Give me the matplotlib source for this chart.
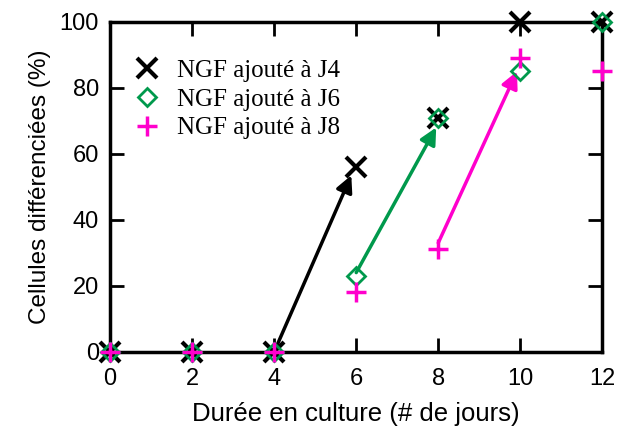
import matplotlib.pyplot as plt

jours = [0, 2, 4, 6, 8, 10, 12]
ngf_j4 = [0, 0, 0, 56, 71, 100, 100]
ngf_j6 = [0, 0, 0, 23, 71, 85, 100]
ngf_j8 = [0, 0, 0, 18, 31, 89, 85]

# fleches (debut -> fin)
fleches = [
    ((4, 0), (5.88, 53.5), 'black'),
    ((6, 24), (7.95, 68), '#00994c'),
    ((8, 33), (9.92, 85), '#ff00cc'),
]

plt.rcParams['font.family'] = ['Liberation Sans', 'DejaVu Sans']
fig = plt.figure(figsize=(6.19, 4.30), dpi=100)
ax = fig.add_axes([0.178, 0.182, 0.795, 0.767])

for (x0, y0), (x1, y1), c in fleches:
    ax.annotate('', xy=(x1, y1), xytext=(x0, y0),
                arrowprops=dict(arrowstyle='-|>', color=c, lw=2.5,
                                mutation_scale=25, shrinkA=0, shrinkB=0))

ax.plot(jours, ngf_j4, 'x', color='black', ms=14, mew=3, ls='none',
        label='NGF ajouté à J4', clip_on=False, zorder=5)
ax.plot(jours, ngf_j6, 'D', color='#00994c', mfc='none', ms=9, mew=2, ls='none',
        label='NGF ajouté à J6', clip_on=False, zorder=6)
ax.plot(jours, ngf_j8, '+', color='#ff00cc', ms=15, mew=2.5, ls='none',
        label='NGF ajouté à J8', clip_on=False, zorder=7)

ax.set_xlim(0, 12)
ax.set_ylim(0, 100)
ax.set_xticks(jours)
ax.set_yticks([0, 20, 40, 60, 80, 100])
ax.tick_params(direction='in', length=10, width=2, labelsize=17,
               top=True, right=True)
ax.tick_params(axis='x', pad=12)
ax.tick_params(axis='y', pad=8)
for s in ax.spines.values():
    s.set_linewidth(2.5)

ax.set_xlabel('Durée en culture (# de jours)', fontsize=18.5, labelpad=8)
ax.set_ylabel('Cellules différenciées (%)', fontsize=17.5, labelpad=6)

leg = ax.legend(loc='upper left', bbox_to_anchor=(-0.01, 0.955), frameon=False,
                prop={'family': 'Liberation Serif', 'size': 18},
                handletextpad=0.45, labelspacing=0.25, handlelength=1.5)

fig.savefig('out.png', dpi=100)
